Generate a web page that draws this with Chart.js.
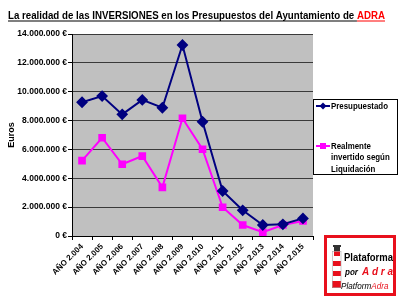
<!DOCTYPE html>
<html>
<head>
<meta charset="utf-8">
<script src="https://cdn.jsdelivr.net/npm/chart.js@4/dist/chart.umd.min.js"></script>
<style>
  body { margin: 0; background: #fff; }
  #wrap { position: relative; width: 400px; height: 300px; }
</style>
</head>
<body>
<div id="wrap"><canvas id="chart" width="400" height="300"></canvas></div>
<script>
// data
var years = ["AÑO 2.004", "AÑO 2.005", "AÑO 2.006", "AÑO 2.007", "AÑO 2.008", "AÑO 2.009",
  "AÑO 2.010", "AÑO 2.011", "AÑO 2.012", "AÑO 2.013", "AÑO 2.014", "AÑO 2.015"];
var presupuestado = [9270000, 9700000, 8430000, 9430000, 8890000, 13240000,
  7920000, 3120000, 1780000, 760000, 810000, 1220000];
var realmente = [5220000, 6810000, 4970000, 5540000, 3370000, 8160000,
  6010000, 1990000, 760000, 260000, 760000, 1040000];
var yMax = 14000000;
var yStep = 2000000;

var font = "'Liberation Sans', Arial, sans-serif";

function euros(v) {
  return String(v).replace(/\B(?=(\d{3})+(?!\d))/g, ".") + " €";
}

// draw text squeezed horizontally by sx
function squeezed(ctx, text, x, y, sx) {
  ctx.save();
  ctx.translate(x, y);
  ctx.scale(sx, 1);
  ctx.fillText(text, 0, 0);
  ctx.restore();
  return ctx.measureText(text).width * sx;
}

// gray plot area
var plotBg = {
  id: "plotBg",
  beforeDraw: function (chart) {
    var a = chart.chartArea;
    var ctx = chart.ctx;
    ctx.save();
    ctx.fillStyle = "#c0c0c0";
    ctx.fillRect(a.left, a.top, a.right - a.left, a.bottom - a.top);
    ctx.restore();
  }
};

// title, legend box and logo
var extras = {
  id: "extras",
  afterDraw: function (chart) {
    var ctx = chart.ctx;
    ctx.save();
    ctx.textAlign = "left";

    // title
    var t1 = "La realidad de las INVERSIONES en los Presupuestos del Ayuntamiento de ";
    var t2 = "ADRA";
    ctx.font = "bold 11px " + font;
    ctx.textBaseline = "alphabetic";
    var sx = 377 / ctx.measureText(t1 + t2).width;
    var x0 = 8;
    ctx.fillStyle = "#000";
    var w1 = squeezed(ctx, t1, x0, 19, sx);
    ctx.fillStyle = "#ff0000";
    var w2 = squeezed(ctx, t2, x0 + w1, 19, sx);
    ctx.fillStyle = "#000";
    ctx.fillRect(x0, 20.5, w1, 1);
    ctx.fillStyle = "#ff0000";
    ctx.fillRect(x0 + w1, 20.5, w2, 1);

    // legend
    ctx.fillStyle = "#fff";
    ctx.fillRect(313.5, 99.5, 84, 75);
    ctx.strokeStyle = "#000";
    ctx.lineWidth = 1;
    ctx.strokeRect(313.5, 99.5, 84, 75);

    ctx.lineWidth = 2;
    ctx.strokeStyle = "#000080";
    ctx.beginPath();
    ctx.moveTo(316, 106);
    ctx.lineTo(330, 106);
    ctx.stroke();
    ctx.fillStyle = "#000080";
    ctx.beginPath();
    ctx.moveTo(323, 102.5);
    ctx.lineTo(326.5, 106);
    ctx.lineTo(323, 109.5);
    ctx.lineTo(319.5, 106);
    ctx.closePath();
    ctx.fill();

    ctx.strokeStyle = "#ff00ff";
    ctx.beginPath();
    ctx.moveTo(316, 146);
    ctx.lineTo(330, 146);
    ctx.stroke();
    ctx.fillStyle = "#ff00ff";
    ctx.fillRect(320, 143, 6, 6);

    ctx.fillStyle = "#000";
    ctx.font = "bold 9.5px " + font;
    ctx.textBaseline = "middle";
    var lsx = 57 / ctx.measureText("Presupuestado").width;
    squeezed(ctx, "Presupuestado", 331, 106, lsx);
    squeezed(ctx, "Realmente", 331, 146, lsx);
    squeezed(ctx, "invertido según", 331, 157.5, lsx);
    squeezed(ctx, "Liquidación", 331, 169, lsx);

    // logo
    ctx.fillStyle = "#fff";
    ctx.fillRect(324, 235, 72, 61);
    ctx.strokeStyle = "#e8101c";
    ctx.lineWidth = 3;
    ctx.strokeRect(325.5, 236.5, 69, 58);
    // lighthouse
    ctx.fillStyle = "#333";
    ctx.fillRect(333, 245, 8, 2);
    ctx.fillRect(334, 247, 6, 4);
    ctx.fillStyle = "#e8101c";
    ctx.fillRect(334, 251, 6, 5);
    ctx.fillRect(333, 261, 8, 5);
    ctx.fillRect(333, 271, 8, 5);
    ctx.fillRect(332, 281, 9, 7);
    ctx.strokeStyle = "#aaa";
    ctx.lineWidth = 0.6;
    ctx.strokeRect(332.5, 251.5, 8.5, 36);

    ctx.textBaseline = "alphabetic";
    ctx.fillStyle = "#000";
    ctx.font = "bold 11px " + font;
    squeezed(ctx, "Plataforma", 344, 261, 49 / ctx.measureText("Plataforma").width);
    ctx.font = "italic bold 9px " + font;
    squeezed(ctx, "por", 345, 275, 13 / ctx.measureText("por").width);
    ctx.fillStyle = "#e8101c";
    ctx.font = "italic bold 10.5px " + font;
    squeezed(ctx, "A d r a", 362, 275, 31 / ctx.measureText("A d r a").width);
    ctx.font = "italic 9.5px " + font;
    var psx = 52 / ctx.measureText("PlataformAdra").width;
    ctx.fillStyle = "#000";
    var pw = squeezed(ctx, "Platform", 341, 289, psx);
    ctx.fillStyle = "#e8101c";
    squeezed(ctx, "Adra", 341 + pw, 289, psx);

    ctx.restore();
  }
};

var ctx = document.getElementById("chart").getContext("2d");

var chart = new Chart(ctx, {
  type: "line",
  data: {
    labels: years,
    datasets: [
      {
        label: "Presupuestado",
        data: presupuestado,
        borderColor: "#000080",
        backgroundColor: "#000080",
        borderWidth: 2,
        pointStyle: "rectRot",
        pointRadius: 4.5,
        pointHoverRadius: 4.5,
        tension: 0
      },
      {
        label: "Realmente invertido según Liquidación",
        data: realmente,
        borderColor: "#ff00ff",
        backgroundColor: "#ff00ff",
        borderWidth: 2,
        pointStyle: "rect",
        pointRadius: 4,
        pointHoverRadius: 4,
        tension: 0
      }
    ]
  },
  options: {
    responsive: false,
    animation: false,
    layout: { padding: { top: 34, right: 87, left: 6, bottom: 0 } },
    plugins: {
      legend: { display: false },
      title: { display: false },
      tooltip: { enabled: false }
    },
    scales: {
      x: {
        offset: true,
        grid: {
          offset: true,
          drawOnChartArea: false,
          drawTicks: true,
          tickLength: 4,
          color: "#000"
        },
        border: { display: true, color: "#000", width: 1 },
        ticks: {
          minRotation: 45,
          maxRotation: 45,
          autoSkip: false,
          padding: 2,
          color: "#000",
          font: { family: font, size: 8, weight: "bold" }
        },
        afterFit: function (scale) { scale.height = 64; }
      },
      y: {
        min: 0,
        max: yMax,
        ticks: {
          stepSize: yStep,
          padding: 1,
          color: "#000",
          font: { family: font, size: 8.5, weight: "bold" },
          callback: function (v) { return euros(v); }
        },
        grid: {
          color: "#3a3a3a",
          lineWidth: 1,
          tickLength: 4,
          tickColor: "#000"
        },
        border: { display: true, color: "#000", width: 1 },
        title: {
          display: true,
          text: "Euros",
          color: "#000",
          padding: { top: 0, bottom: 2 },
          font: { family: font, size: 9, weight: "bold" }
        },
        afterFit: function (scale) { scale.width = 66; }
      }
    }
  },
  plugins: [plotBg, extras]
});
</script>
</body>
</html>
